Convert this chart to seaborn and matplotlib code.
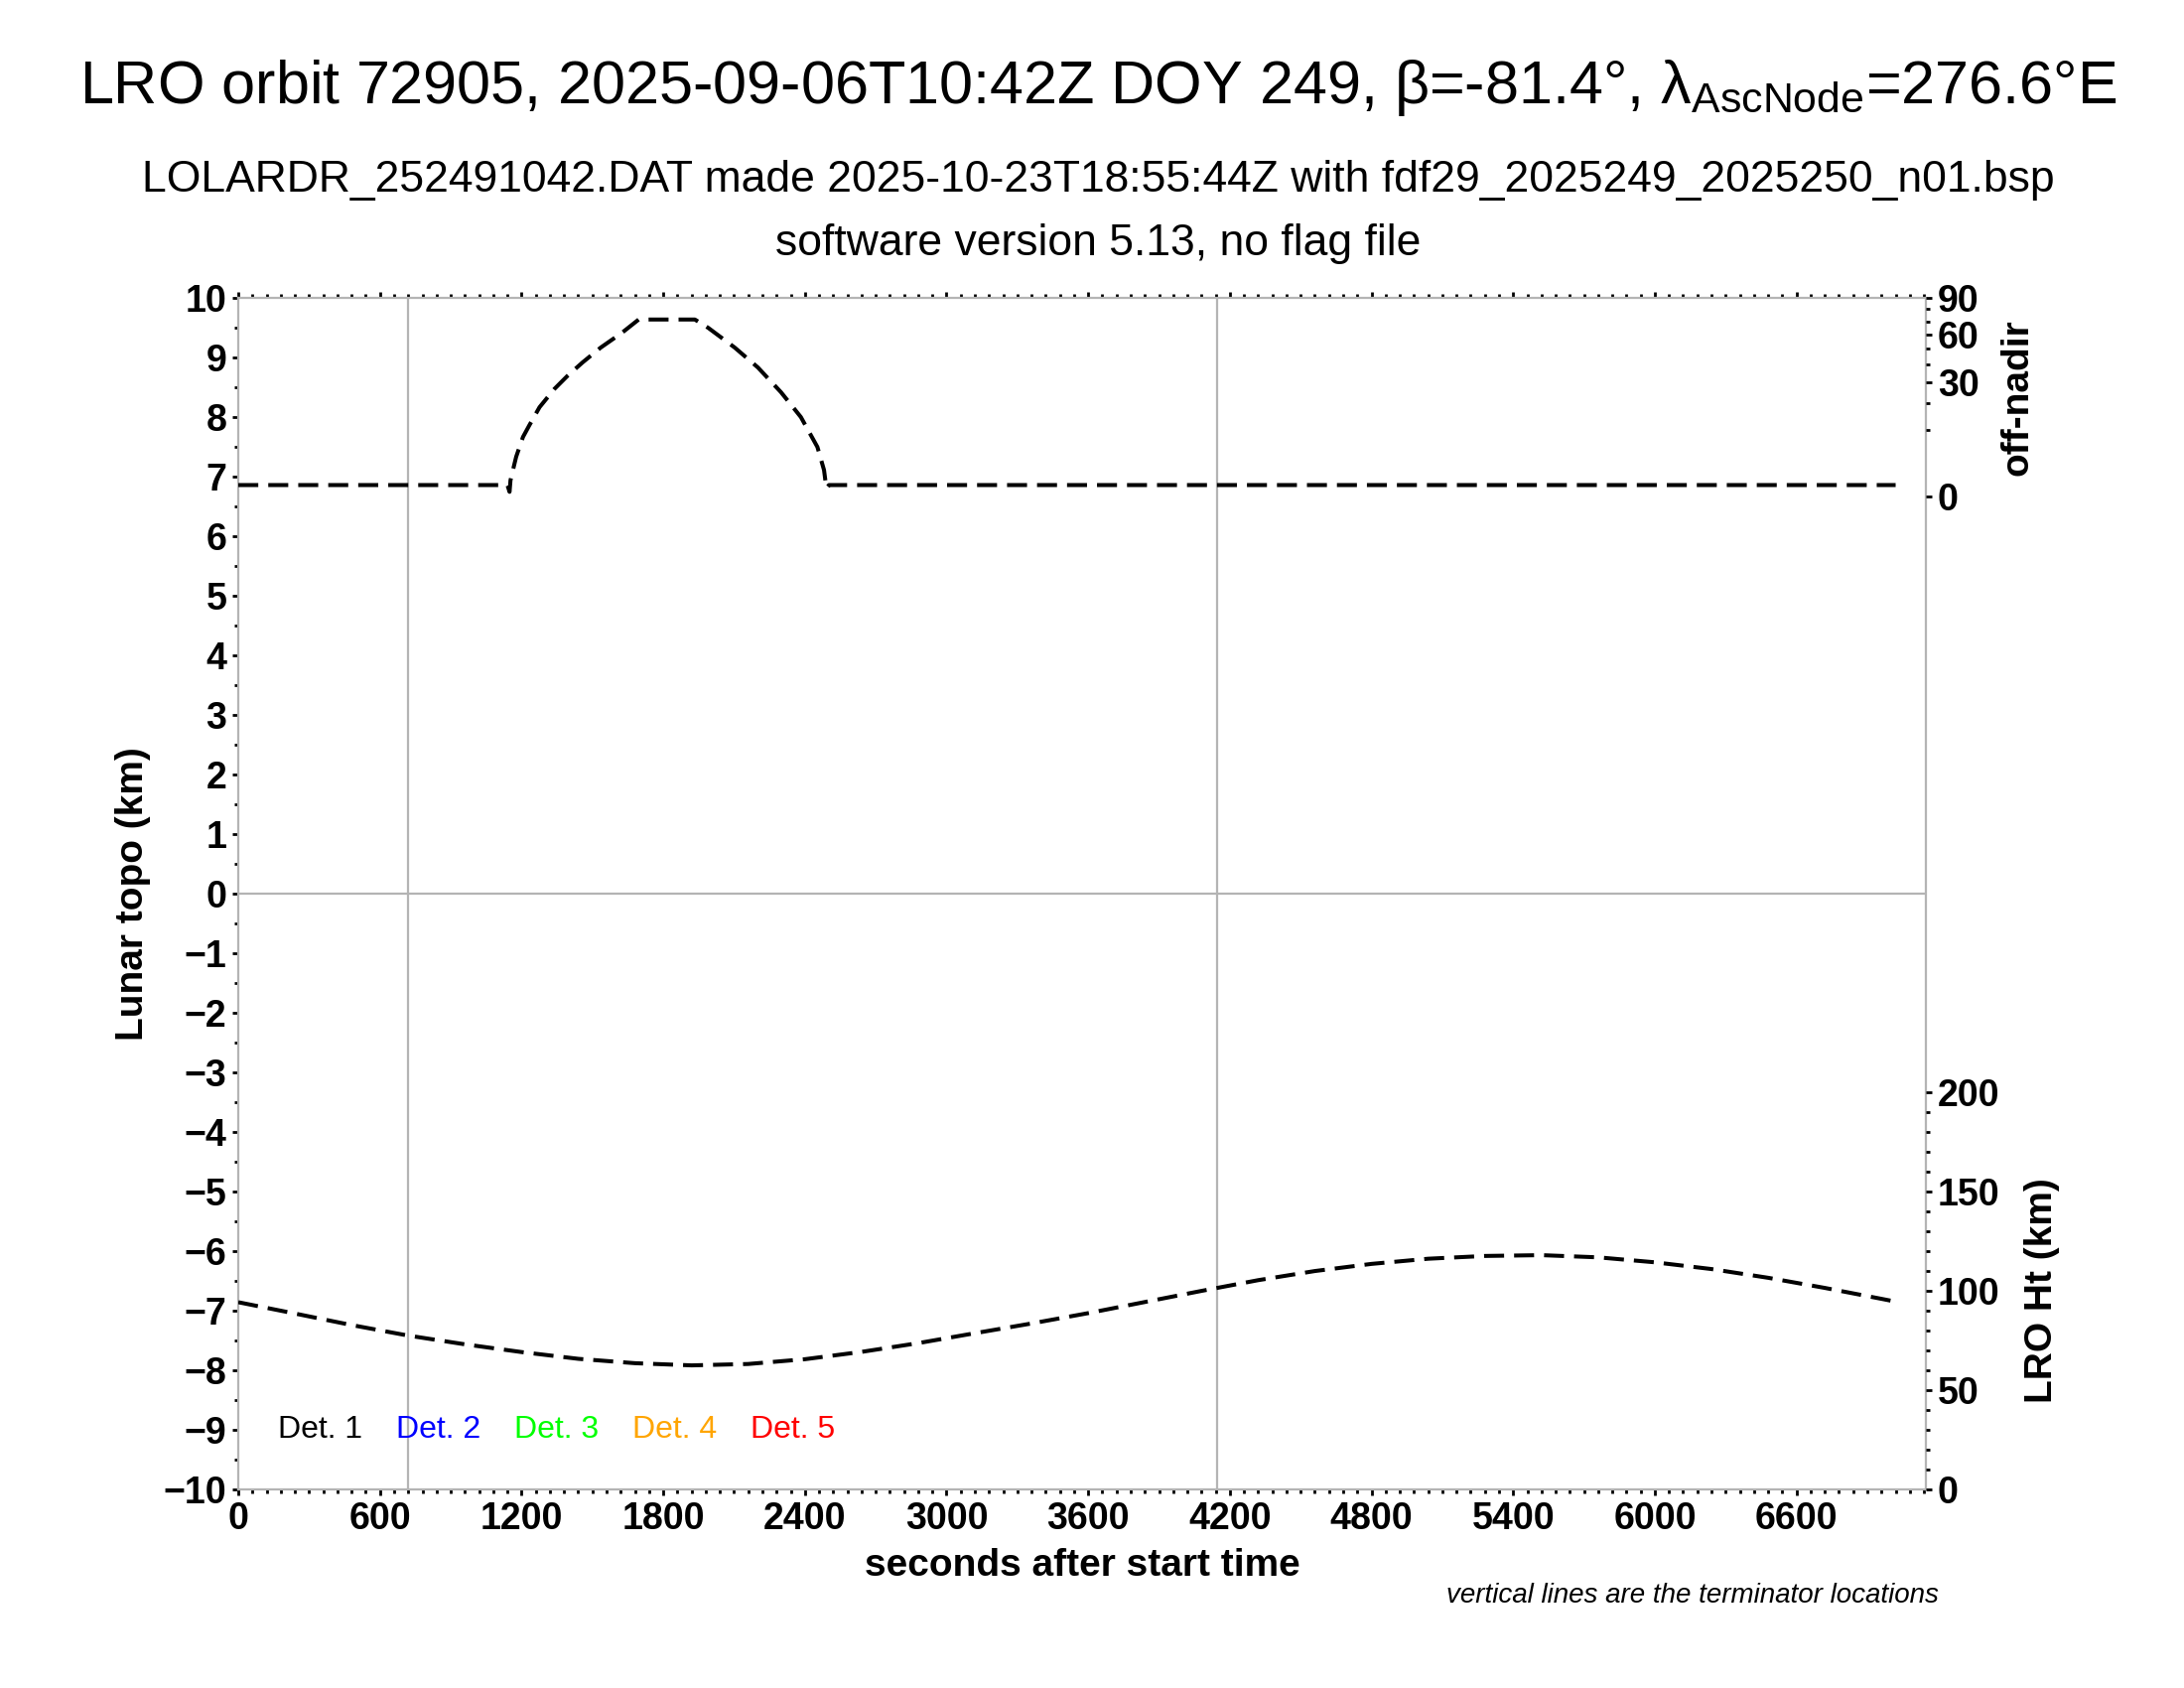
import numpy as np
import pandas as pd
import matplotlib
matplotlib.use("Agg")
import matplotlib.pyplot as plt
import seaborn as sns
from matplotlib.ticker import MultipleLocator, FixedLocator

sns.set_theme(style="ticks")
plt.rcParams['font.family'] = ['Liberation Sans', 'DejaVu Sans']
plt.rcParams['mathtext.fontset'] = 'custom'
plt.rcParams['mathtext.rm'] = 'Liberation Sans'
for k in ['text.color', 'axes.labelcolor', 'xtick.color', 'ytick.color']:
    plt.rcParams[k] = 'black'

# spacecraft height above the surface (km) vs seconds after start
ht_time = [0, 240, 480, 720, 960, 1200, 1440, 1680, 1920, 2160, 2400, 2640,
           2880, 3120, 3360, 3600, 3840, 4080, 4320, 4560, 4800, 5040, 5280,
           5520, 5760, 6000, 6240, 6480, 6720, 6960, 7020]
ht_km = [94.3, 88.6, 82.8, 77.5, 73.1, 69.2, 65.8, 63.6, 62.5, 63.2, 65.6, 69.3,
         73.7, 78.7, 83.6, 88.8, 94.4, 100.0, 105.4, 110.0, 113.6, 116.2, 117.6,
         118.0, 116.9, 114.4, 111.0, 106.6, 101.5, 96.0, 94.6]

# off-nadir angle (deg) vs seconds after start
nadir_time = [0, 1140, 1149, 1153, 1177, 1206, 1233, 1276, 1339, 1395, 1458,
              1535, 1626, 1696, 1934, 1990, 2103, 2201, 2299, 2383, 2453, 2481,
              2491, 2502, 7020]
nadir_deg = [0.3, 0.3, 0.05, 0.6, 3.6, 8.1, 11.6, 18.2, 26.4, 33.3, 41.0,
             50.6, 61.3, 71.5, 71.5, 65.0, 50.6, 38.0, 24.8, 14.4, 5.6, 1.6,
             0.16, 0.3, 0.3]

terminator_time = [719, 4145]

det_labels = ['Det. 1', 'Det. 2', 'Det. 3', 'Det. 4', 'Det. 5']
det_colors = ['black', 'blue', '#00ff00', 'orange', 'red']

x_max = 7148
grey = '#b4b4b4'
dash = (0, (5, 2.5))
line_w = 1.45
tick_fs = 13.5
lab_fs = 14


def style_ticks(a):
    a.tick_params(which='both', direction='out', color='black', width=1.0,
                  labelsize=tick_fs, pad=2)
    a.tick_params(which='major', length=2.2)
    a.tick_params(which='minor', length=1.3)


fig = plt.figure(figsize=(11, 8.5), dpi=200)
ax = fig.add_axes([0.1091, 0.1176, 0.7727, 0.7059])
ax.set_xlim(0, x_max)
ax.set_ylim(-10, 10)
ax.set_xticks(range(0, 7000, 600))
ax.xaxis.set_minor_locator(MultipleLocator(60))
ax.set_yticks(range(-10, 11))
ax.yaxis.set_minor_locator(MultipleLocator(0.5))
style_ticks(ax)
ax.tick_params(which='both', top=True, right=False)
for lab in ax.get_xticklabels() + ax.get_yticklabels():
    lab.set_fontweight('bold')
for s in ax.spines.values():
    s.set_color(grey)
    s.set_linewidth(0.8)
ax.set_xlabel('seconds after start time', fontsize=lab_fs, fontweight='bold', labelpad=4)
ax.set_ylabel('Lunar topo (km)', fontsize=lab_fs, fontweight='bold')
ax.yaxis.set_label_coords(-0.052, 0.5)

ax.axhline(0, color=grey, lw=0.8)
for t in terminator_time:
    ax.axvline(t, color=grey, lw=0.8)

for i, (txt, c) in enumerate(zip(det_labels, det_colors)):
    ax.annotate(txt, xy=(0.0235 + i * 0.0700, -9), xycoords=('axes fraction', 'data'),
                color=c, fontsize=11.5, va='center', ha='left')

# LRO height on a twin axis (bottom part of the plot)
ax_ht = ax.twinx()
ax_ht.set_ylim(0, 600)
sns.lineplot(x=ht_time, y=ht_km, ax=ax_ht, color='black', lw=line_w,
             linestyle=dash, estimator=None, sort=False)
ax_ht.set_yticks(range(0, 201, 50))
ax_ht.yaxis.set_minor_locator(FixedLocator(range(0, 201, 10)))
style_ticks(ax_ht)
for lab in ax_ht.get_yticklabels():
    lab.set_fontweight('bold')
for s in ax_ht.spines.values():
    s.set_visible(False)
ax_ht.set_ylabel('LRO Ht (km)', fontsize=lab_fs, fontweight='bold')
ax_ht.yaxis.set_label_coords(1.058, 100 / 600)

# off-nadir angle on a sqrt axis (top part of the plot)
h = 0.7059 / 6
ax_nd = fig.add_axes([0.1091, 0.1176 + 0.7059 - h, 0.7727, h])
ax_nd.patch.set_alpha(0)
ax_nd.set_xlim(0, x_max)
ax_nd.set_yscale('function', functions=(lambda v: np.sqrt(np.clip(v, 0, None)), np.square))
ax_nd.set_ylim(0, 90)
sns.lineplot(x=nadir_time, y=nadir_deg, ax=ax_nd, color='black', lw=line_w,
             linestyle=dash, estimator=None, sort=False)
ax_nd.yaxis.tick_right()
ax_nd.yaxis.set_label_position('right')
ax_nd.set_yticks([0, 30, 60, 90])
ax_nd.yaxis.set_minor_locator(FixedLocator(range(0, 91, 10)))
style_ticks(ax_nd)
for lab in ax_nd.get_yticklabels():
    lab.set_fontweight('bold')
ax_nd.xaxis.set_visible(False)
for s in ax_nd.spines.values():
    s.set_visible(False)
ax_nd.set_ylabel('off-nadir', fontsize=lab_fs, fontweight='bold')
ax_nd.yaxis.set_label_coords(1.044, 0.5)

fig.text(0.503, 0.939, r'LRO orbit 72905, 2025-09-06T10:42Z DOY 249, β=-81.4°, λ$_{\rm AscNode}$=276.6°E',
         ha='center', va='baseline', fontsize=22)
fig.text(0.503, 0.8865, 'LOLARDR_252491042.DAT made 2025-10-23T18:55:44Z with fdf29_2025249_2025250_n01.bsp',
         ha='center', va='baseline', fontsize=16)
fig.text(0.503, 0.849, 'software version 5.13, no flag file',
         ha='center', va='baseline', fontsize=16)
fig.text(0.8875, 0.0506, 'vertical lines are the terminator locations',
         ha='right', va='baseline', fontsize=10, style='italic')

fig.savefig('out.png', dpi=200, facecolor='white')
